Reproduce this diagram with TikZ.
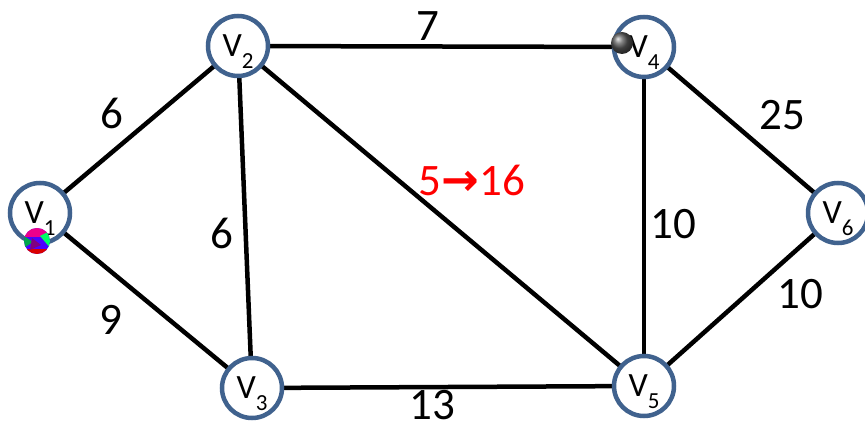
\documentclass[tikz,border=0pt]{standalone}
\usepackage{fontspec}
\setmainfont{Carlito}
\newfontfamily\symfont{DejaVu Sans}
\usetikzlibrary{shadings}
\definecolor{nodeblue}{RGB}{64,98,142}
\definecolor{wred}{RGB}{255,0,0}
\newcommand{\vlab}[1]{V\smash{\raisebox{-12pt}{\fontsize{23}{23}\selectfont #1}}}
\tikzset{
  vert/.style={circle, draw=nodeblue, line width=4.5pt, fill=white, minimum size=60pt, inner sep=0pt, font=\fontsize{34}{34}\selectfont},
  edge/.style={line width=4.5pt, black},
  wlab/.style={inner sep=0pt, font=\fontsize{45}{45}\selectfont}
}
\begin{document}
\begin{tikzpicture}[x=1pt,y=-1pt]
\useasboundingbox (0,0) rectangle (865,430);
% vertex positions
\coordinate (p1) at (40,213);
\coordinate (p2) at (238,46);
\coordinate (p3) at (252,388);
\coordinate (p4) at (644,47);
\coordinate (p5) at (644,386);
\coordinate (p6) at (838,213);
% edges
\draw[edge] (p1) -- (p2);
\draw[edge] (p1) -- (p3);
\draw[edge] (p2) -- (p4);
\draw[edge] (p2) -- (p3);
\draw[edge] (p2) -- (p5);
\draw[edge] (p3) -- (p5);
\draw[edge] (p4) -- (p5);
\draw[edge] (p4) -- (p6);
\draw[edge] (p5) -- (p6);
% vertices
\node[vert] (v1) at (p1) {\vlab{1}};
\node[vert] (v2) at (p2) {\vlab{2}};
\node[vert] (v3) at (p3) {\vlab{3}};
\node[vert] (v4) at (p4) {\vlab{4}};
\node[vert] (v5) at (p5) {\vlab{5}};
\node[vert] (v6) at (p6) {\vlab{6}};
% weights
\node[wlab] (w24) at (428,26) {7};
\node[wlab] (w12) at (112,113) {6};
\node[wlab] (w13) at (111,320) {9};
\node[wlab] (w23) at (222,233) {6};
\node[wlab, text=wred] (w25) at (472,180) {5{\symfont\bfseries →}16};
\node[wlab] (w35) at (432,405) {13};
\node[wlab] (w45) at (673,224) {10};
\node[wlab] (w46) at (782,115) {25};
\node[wlab] (w56) at (800,294) {10};
% decorative balls
\begin{scope}
  \clip (37,241) circle (13);
  \fill[blue!70!magenta] (24,228) rectangle (50,254);
  \fill[magenta] (24,228) rectangle (52,237);
  \fill[green!60!cyan] (40,236) -- (52,230) -- (52,250) -- cycle;
  \fill[green!50!black!70!cyan] (24,236) -- (33,242) -- (24,248) -- cycle;
  \fill[red!85!black] (26,249) rectangle (48,255);
  \fill[violet] (32,238) -- (41,245) -- (30,250) -- cycle;
\end{scope}
\shade[ball color=gray!70!black] (622,43) circle (11);
\end{tikzpicture}
\end{document}
